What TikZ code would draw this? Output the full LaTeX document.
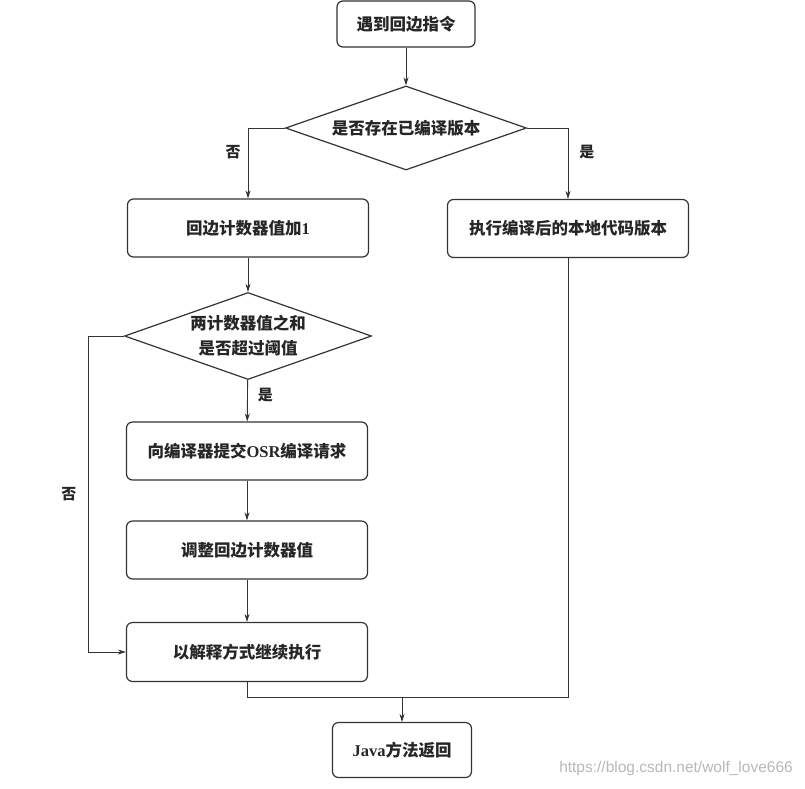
\documentclass[tikz,border=0pt]{standalone}
\usepackage{fontspec}
\setmainfont{Noto Sans CJK SC}
\newfontfamily\latinfont{Liberation Serif}
\newfontfamily\webfont{Liberation Sans}
\usetikzlibrary{shapes, positioning, arrows.meta, calc}
\tikzset{
	every edge/.style={
		draw, ->, >={Stealth[length=8pt,width=5pt]}, line width=0.9pt, black!80
	}
}
\newcommand{\lat}[1]{{\latinfont\bfseries #1}}

\begin{document}
\begin{tikzpicture}[x=1pt, y=-1pt, >={Stealth[length=8pt,width=5pt]},
	proc/.style={draw=black!80, line width=1.2pt, rounded corners=6pt, minimum width=241pt, minimum height=58pt, text=black!85, font=\fontsize{16.5}{20}\selectfont\bfseries},
	judge/.style={draw=black!80, line width=1.2pt, diamond, inner sep=0pt, shape aspect=2.87, align=center, text=black!85, font=\fontsize{16.5}{25}\selectfont\bfseries},
	lbl/.style={inner sep=0pt, text=black!85, font=\fontsize{15}{18}\selectfont\bfseries},
	wire/.style={draw, line width=0.9pt, black!80},
	link/.style={wire, ->}]
	\useasboundingbox (0,0) rectangle (805,788);
	\node[proc, minimum width=138pt, minimum height=46pt] (meet) at (406,24) {遇到回边指令};
	\node[judge, minimum width=241pt, minimum height=84pt] (q1) at (406,128) {是否存在已编译版本};
	\node[proc] (inc) at (248,228) {回边计数器值加\lat{1}};
	\node[proc] (native) at (568,228.5) {执行编译后的本地代码版本};
	\node[judge, minimum width=247pt, minimum height=87pt] (q2) at (248,336) {两计数器值之和\\是否超过阈值};
	\node[proc] (osr) at (247,451) {向编译器提交\lat{OSR}编译请求};
	\node[proc] (adj) at (247,550) {调整回边计数器值};
	\node[proc, minimum height=59pt] (interp) at (247,652) {以解释方式继续执行};
	\node[proc, minimum width=139pt, minimum height=55pt] (ret) at (402,750) {\lat{Java}方法返回};
	\coordinate (join) at (402,697);
	\draw (meet) edge (q1);
	\draw[link] (q1.west) -| node[lbl, pos=0.67, left=7pt] {否} (inc.north);
	\draw[link] (q1.east) -| node[lbl, pos=0.67, right=11pt] {是} (native.north);
	\draw (inc) edge (q2);
	\draw (q2) edge node[lbl, pos=0.37, right=10pt] {是} (osr);
	\draw[link] (q2.west) -- ++(-35,0) |- node[lbl, pos=0.25, left=12pt] {否} (interp.west);
	\draw (osr) edge (adj);
	\draw (adj) edge (interp);
	\draw[wire] (interp.south) |- (join);
	\draw[wire] (native.south) |- (join);
	\draw (join) edge (ret);
	\node[text=black!28, font=\webfont\fontsize{15.5}{18}\selectfont] (mark) at (676,768) {https://blog.csdn.net/wolf\_love666};
\end{tikzpicture}
\end{document}
